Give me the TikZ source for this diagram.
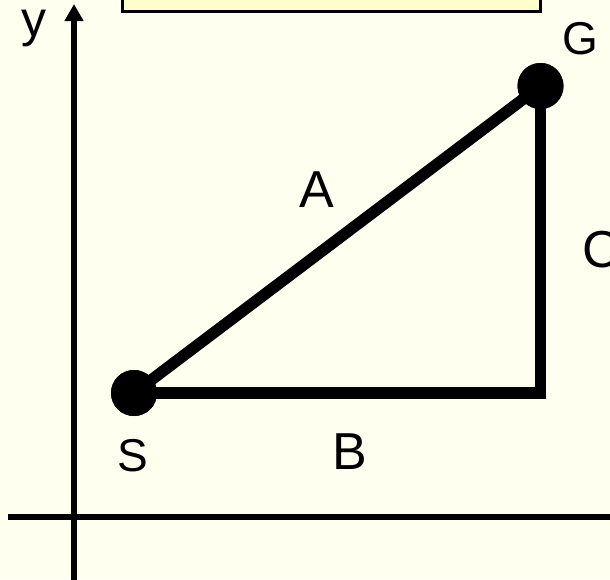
\documentclass[tikz,border=0pt]{standalone}
\usepackage{fontspec}
\setmainfont{Liberation Sans}
\usetikzlibrary{arrows.meta}
\definecolor{bgcol}{RGB}{255,255,240}
\definecolor{boxcol}{RGB}{255,255,204}
\begin{document}
\begin{tikzpicture}[x=1pt,y=-1pt,
  axis/.style={line width=6pt},
  edge/.style={line width=11.5pt, miter limit=10},
  dot/.style={circle, fill=black, minimum size=46pt, inner sep=0pt},
  biglabel/.style={inner sep=0pt, anchor=base, font=\fontsize{52}{60}\selectfont},
  smalllabel/.style={inner sep=0pt, anchor=base, font=\fontsize{46}{54}\selectfont}]
\useasboundingbox (0,0) rectangle (610,579);
\clip (0,0) rectangle (610,579);
\fill[bgcol] (0,0) rectangle (610,579);
% partial box at top
\draw[fill=boxcol, line width=3pt] (122.5,-10) rectangle (540,11);
% axes
\coordinate (xl) at (8,517);
\coordinate (xr) at (614,517);
\coordinate (yb) at (74,583);
\coordinate (yt) at (74,4);
\draw[axis] (xl) -- (xr);
\draw[axis, -{Triangle[length=17pt,width=18pt]}] (yb) -- (yt);
% points
\node[dot] (S) at (134,393) {};
\node[dot] (G) at (540.5,86) {};
\coordinate (K) at (540.5,393);
\draw[edge] (S.center) -- (G.center);
\draw[edge, line join=miter] (S.center) -- (K) -- (G.center);
\node[dot] at (S) {};
\node[dot] at (G) {};
% labels
\node[inner sep=0pt, anchor=base, font=\fontsize{50}{58}\selectfont] (ly) at (34,36) {y};
\node[smalllabel] (lG) at (580,54) {G};
\node[smalllabel] (lS) at (133,471) {S};
\node[biglabel] (lA) at (317,207) {A};
\node[biglabel] (lB) at (350,469.5) {B};
\node[biglabel] (lC) at (601,267) {C};
\end{tikzpicture}
\end{document}
